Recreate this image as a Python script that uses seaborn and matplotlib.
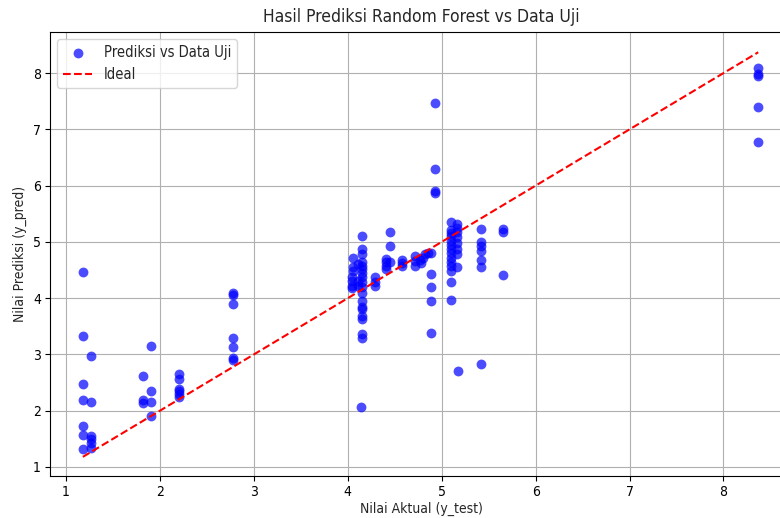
import matplotlib
matplotlib.use("Agg")
import matplotlib.pyplot as plt
import seaborn as sns
import pandas as pd

# Data
x_1 = [1.18, 1.18, 1.18, 1.18, 1.18, 1.18, 1.18,
       1.27, 1.27, 1.27, 1.27, 1.27, 1.27]
y_1 = [4.47, 3.32, 2.47, 2.19, 1.72, 1.56, 1.32,
       2.98, 2.16, 1.55, 1.50, 1.42, 1.33]

x_2 = [1.82, 1.82, 1.82, 1.90, 1.90, 1.90, 1.90,
       2.20, 2.20, 2.20, 2.20, 2.20, 2.20]
y_2 = [2.61, 2.19, 2.14, 3.15, 2.35, 2.16, 1.90,
       2.65, 2.56, 2.38, 2.35, 2.29, 2.25]

x_3 = [2.78, 2.78, 2.78, 2.78, 2.78, 2.78, 2.78]
y_3 = [4.10, 4.06, 3.90, 3.29, 3.13, 2.93, 2.90]

x_4 = [4.04, 4.04, 4.04, 4.06, 4.06, 4.04, 4.06,
       4.15, 4.15, 4.15, 4.15, 4.15, 4.15, 4.15, 4.15, 4.15, 4.15,
       4.15, 4.15, 4.15, 4.15, 4.15, 4.15, 4.15, 4.15, 4.14,
       4.11, 4.11, 4.11,
       4.29, 4.29, 4.29,
       4.41, 4.41, 4.41, 4.41, 4.45, 4.45, 4.45,
       4.58, 4.58, 4.58,
       4.72, 4.72, 4.72,
       4.77, 4.80, 4.82, 4.78, 4.85,
       4.89, 4.89, 4.89, 4.89, 4.89,
       4.93, 4.93, 4.93, 4.93]
y_4 = [4.37, 4.31, 4.18, 4.72, 4.55, 4.22, 4.48,
       5.11, 4.87, 4.78, 4.64, 4.57, 4.52, 4.45, 4.37, 4.28, 4.19,
       4.10, 3.95, 3.85, 3.80, 3.69, 3.63, 3.36, 3.30, 2.06,
       4.60, 4.30, 4.22,
       4.37, 4.28, 4.22,
       4.70, 4.64, 4.58, 4.52, 5.17, 4.92, 4.64,
       4.68, 4.62, 4.58,
       4.75, 4.66, 4.58,
       4.68, 4.72, 4.78, 4.62, 4.80,
       4.81, 4.43, 4.19, 3.95, 3.39,
       7.47, 6.30, 5.91, 5.87]

x_5 = [5.10] * 14 + [5.16] * 8 + [5.17] + [5.42] * 7 + [5.65] * 3 + [8.37] * 5
y_5 = [5.35, 5.22, 5.15, 5.10, 5.02, 4.95, 4.88, 4.80, 4.72, 4.65, 4.58, 4.49, 4.28, 3.97,
       5.32, 5.25, 5.18, 5.08, 4.98, 4.88, 4.78, 4.56,
       2.71,
       5.23, 4.99, 4.93, 4.84, 4.67, 4.56, 2.83,
       5.23, 5.17, 4.42,
       8.09, 7.99, 7.95, 7.39, 6.78]

y_test = x_1 + x_2 + x_3 + x_4 + x_5
y_pred = y_1 + y_2 + y_3 + y_4 + y_5
ideal = [min(y_test), max(y_test)]

df = pd.DataFrame({"y_test": y_test, "y_pred": y_pred})
df_ideal = pd.DataFrame({"x": ideal, "y": ideal})

sns.set_style("white")
plt.rcParams["font.family"] = ["DejaVu Sans"]
plt.rcParams["font.stretch"] = "condensed"

fig = plt.figure(figsize=(7.8, 5.18), dpi=100)
ax = fig.add_axes([50 / 780, 42 / 518, 743 / 780, 444 / 518])

sns.scatterplot(data=df, x="y_test", y="y_pred", color="blue", alpha=0.7,
                s=50, linewidth=0, label="Prediksi vs Data Uji", ax=ax, zorder=3)
sns.lineplot(data=df_ideal, x="x", y="y", color="red", linestyle="--",
             linewidth=1.5, label="Ideal", ax=ax, zorder=4)

ax.set_xlim(0.83, 8.74)
ax.set_ylim(0.84, 8.73)
ax.set_xticks([1, 2, 3, 4, 5, 6, 7, 8])
ax.set_yticks([1, 2, 3, 4, 5, 6, 7, 8])
ax.grid(True, color="#b0b0b0", linewidth=0.8)
ax.set_axisbelow(True)
for s in ax.spines.values():
    s.set_color("black")
    s.set_linewidth(0.8)
ax.tick_params(axis="both", which="both", bottom=True, left=True,
               length=3.5, width=0.8, labelsize=10, pad=3, colors="black")

ax.set_title("Hasil Prediksi Random Forest vs Data Uji", fontsize=12.5, pad=7)
ax.set_xlabel("Nilai Aktual (y_test)", fontsize=10, labelpad=2)
ax.set_ylabel("Nilai Prediksi (y_pred)", fontsize=10)
ax.legend(loc="upper left", fontsize=10.5, frameon=True)

fig.savefig("out.png", dpi=100)
